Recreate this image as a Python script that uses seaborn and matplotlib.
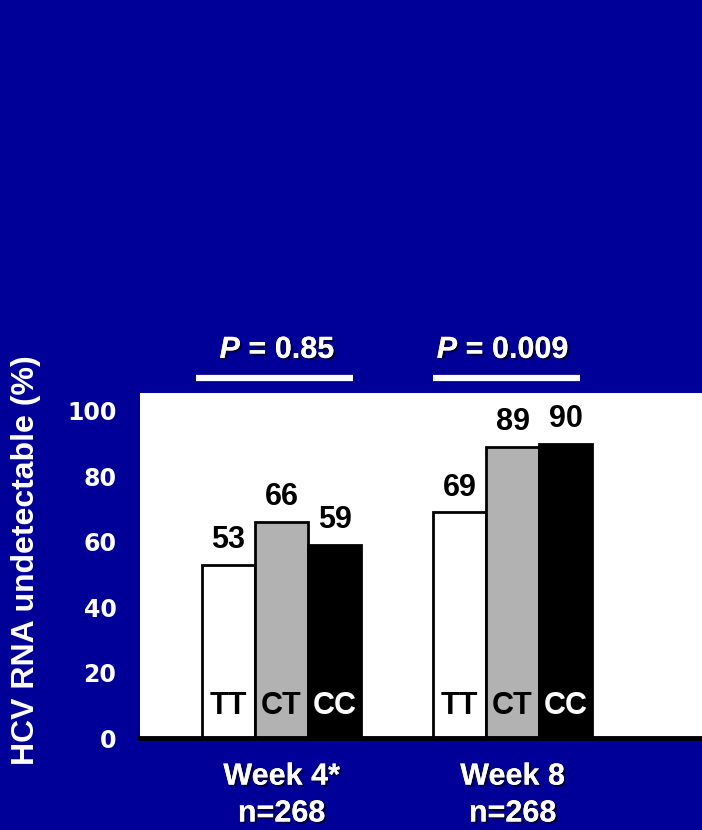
import matplotlib
matplotlib.use("Agg")
import matplotlib.pyplot as plt
import matplotlib.patheffects as pe
import matplotlib.transforms as mtransforms
import pandas as pd
import seaborn as sns

# --- data ---
timepoints = ["Week 4*", "Week 8"]
n_patients = [268, 268]
genotypes = ["TT", "CT", "CC"]
tt_values = [53, 69]
ct_values = [66, 89]
cc_values = [59, 90]
p_values = ["0.85", "0.009"]

bar_colors = {"TT": "#ffffff", "CT": "#b2b2b2", "CC": "#000000"}
inner_text_colors = {"TT": "black", "CT": "black", "CC": "white"}
slide_blue = "#000099"

rows = []
for g, vals in zip(genotypes, [tt_values, ct_values, cc_values]):
    for t, v in zip(timepoints, vals):
        rows.append({"timepoint": t, "genotype": g, "pct": v})
df = pd.DataFrame(rows)

sns.set_style("white")
plt.rcParams["font.family"] = ["Liberation Sans", "DejaVu Sans"]
plt.rcParams["font.weight"] = "bold"

fig = plt.figure(figsize=(7.02, 8.30), dpi=100, facecolor=slide_blue)
ax = fig.add_axes([140 / 702, 1 - 738 / 830, 562 / 702, 345 / 830])
ax.set_facecolor("white")

sns.barplot(data=df, x="timepoint", y="pct", hue="genotype",
            order=timepoints, hue_order=genotypes, palette=bar_colors,
            width=0.69, gap=0, edgecolor="black", linewidth=2,
            legend=False, ax=ax)

ax.set_xlim(-0.6126, 1.820)
ax.set_ylim(0, 105.5)

shadow = [pe.withSimplePatchShadow(offset=(1.5, -1.5), shadow_rgbFace="black", alpha=0.6),
          pe.Normal()]

# value labels above bars and genotype labels inside the bars
for g, container in zip(genotypes, ax.containers):
    for bar in container:
        cx = bar.get_x() + bar.get_width() / 2
        h = bar.get_height()
        ax.annotate(f"{h:.0f}", xy=(cx, h), xytext=(0, 7), textcoords="offset points",
                    ha="center", va="bottom", fontsize=22, fontweight="bold", color="black")
        ax.annotate(g, xy=(cx, 0), xytext=(0, 23), textcoords="offset points",
                    ha="center", va="center", fontsize=22, fontweight="bold",
                    color=inner_text_colors[g])

# spines and ticks
for side in ["left", "top", "right"]:
    ax.spines[side].set_visible(False)
ax.spines["bottom"].set_color("black")
ax.spines["bottom"].set_linewidth(3.5)

ax.set_yticks([0, 20, 40, 60, 80, 100])
ax.set_yticklabels(["0", "20", "40", "60", "80", "100"], fontfamily="DejaVu Sans",
                   fontsize=17, fontweight="bold", color="white")
ax.tick_params(axis="y", colors="white", length=7, width=1.5, pad=10, labelcolor="white")

ax.set_xticks(range(len(timepoints)))
ax.set_xticklabels([f"{t}\nn={n}" for t, n in zip(timepoints, n_patients)],
                   fontsize=22, fontweight="bold", color="white", linespacing=1.3)
ax.tick_params(axis="x", length=0, pad=17)
for lbl in ax.get_xticklabels():
    lbl.set_path_effects(shadow)
ax.set_xlabel("")

ax.set_ylabel("HCV RNA undetectable (%)", fontsize=23, fontweight="bold",
              color="white", va="center")
ax.yaxis.set_label_coords(-0.2028, 0.516)

# p-values with underline bars above each group
trans = mtransforms.blended_transform_factory(ax.transData, ax.transAxes)
p_anchor_x = [-0.180, 0.760]
underline_x = [(-0.370, 0.310), (0.656, 1.292)]
for px, (x0, x1), p in zip(p_anchor_x, underline_x, p_values):
    ax.text(px, 1.125, "P", transform=trans, ha="right", va="center", fontsize=22,
            fontweight="bold", fontstyle="italic", color="white", path_effects=shadow)
    ax.text(px, 1.125, f" = {p}", transform=trans, ha="left", va="center", fontsize=22,
            fontweight="bold", color="white", path_effects=shadow)
    ax.plot([x0, x1], [1.0435, 1.0435], transform=trans, color="white",
            lw=4.5, solid_capstyle="butt", clip_on=False)

fig.savefig("out.png", dpi=100, facecolor=slide_blue)
